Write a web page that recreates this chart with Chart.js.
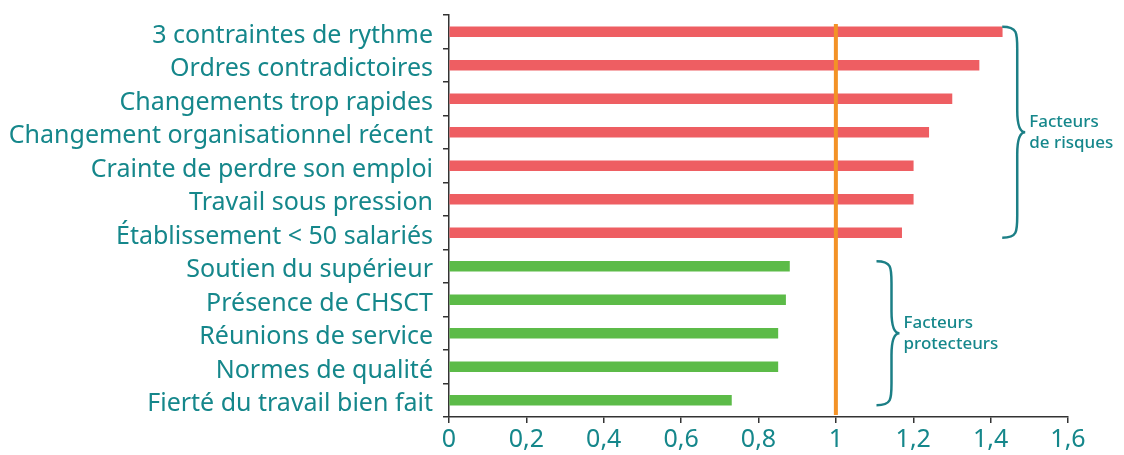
<!DOCTYPE html>
<html>
<head>
<meta charset="utf-8">
<script src="https://cdn.jsdelivr.net/npm/chart.js@4"></script>
<style>
  body { margin: 0; background: #fff; }
  #wrap { width: 1124px; height: 455px; }
</style>
</head>
<body>
<div id="wrap"><canvas id="factorsChart"></canvas></div>
<script>
const categories = [
    "3 contraintes de rythme",
    "Ordres contradictoires",
    "Changements trop rapides",
    "Changement organisationnel récent",
    "Crainte de perdre son emploi",
    "Travail sous pression",
    "Établissement < 50 salariés",
    "Soutien du supérieur",
    "Présence de CHSCT",
    "Réunions de service",
    "Normes de qualité",
    "Fierté du travail bien fait"
];
const values = [1.43, 1.37, 1.30, 1.24, 1.20, 1.20, 1.17, 0.88, 0.87, 0.85, 0.85, 0.73];
const groups = ["risque", "risque", "risque", "risque", "risque", "risque", "risque",
                "protecteur", "protecteur", "protecteur", "protecteur", "protecteur"];
const xTicks = [0, 0.2, 0.4, 0.6, 0.8, 1, 1.2, 1.4, 1.6];
const referenceValue = 1;
const groupNotes = [
    { group: "risque", lines: ["Facteurs", "de risques"] },
    { group: "protecteur", lines: ["Facteurs", "protecteurs"] }
];

const TEAL = '#15878b';
const groupColors = { risque: '#ee5e62', protecteur: '#5cbb48' };
const FONT = "'Noto Sans', sans-serif";
// position des accolades (en unités de l'axe x)
const braceAt = { risque: 1.43, protecteur: 1.105 };

// ligne de référence + accolades
const overlayPlugin = {
    id: 'overlay',
    afterDatasetsDraw(chart) {
        const { ctx, chartArea, scales } = chart;
        const x = scales.x, y = scales.y;

        let xr = x.getPixelForValue(referenceValue);
        ctx.save();
        ctx.strokeStyle = '#f39226';
        ctx.lineWidth = 4;
        ctx.beginPath();
        ctx.moveTo(xr, chartArea.top + 9);
        ctx.lineTo(xr, chartArea.bottom - 2);
        ctx.stroke();

        groupNotes.forEach(note => {
            let idx = groups.map((g, i) => g === note.group ? i : -1).filter(i => i >= 0);
            let first = idx[0], last = idx[idx.length - 1];
            let bx = x.getPixelForValue(braceAt[note.group]);
            let yTop = y.getPixelForValue(first) - 5;
            let yBot = y.getPixelForValue(last) + 5;
            drawBrace(ctx, bx, yTop, yBot);
            let ym = (yTop + yBot) / 2;
            ctx.fillStyle = TEAL;
            ctx.font = "500 17px " + FONT;
            ctx.textAlign = 'left';
            ctx.textBaseline = 'middle';
            ctx.fillText(note.lines[0], bx + 27, ym - 10);
            ctx.fillText(note.lines[1], bx + 27, ym + 11);
        });
        ctx.restore();
    }
};

function drawBrace(ctx, x, yTop, yBot) {
    let h = 15, w = 23, r = 22;
    let ym = (yTop + yBot) / 2;
    ctx.strokeStyle = '#1c7f86';
    ctx.lineWidth = 2.5;
    ctx.beginPath();
    ctx.moveTo(x, yTop);
    ctx.bezierCurveTo(x + h, yTop, x + h, yTop + 6, x + h, yTop + r);
    ctx.lineTo(x + h, ym - r);
    ctx.quadraticCurveTo(x + h, ym, x + w, ym);
    ctx.quadraticCurveTo(x + h, ym, x + h, ym + r);
    ctx.lineTo(x + h, yBot - r);
    ctx.bezierCurveTo(x + h, yBot - 6, x + h, yBot, x, yBot);
    ctx.stroke();
}

const ctx = document.getElementById('factorsChart').getContext('2d');
new Chart(ctx, {
    type: 'bar',
    data: {
        labels: categories,
        datasets: [{
            data: values,
            backgroundColor: groups.map(g => groupColors[g]),
            barThickness: 10
        }]
    },
    options: {
        indexAxis: 'y',
        responsive: true,
        maintainAspectRatio: false,
        animation: false,
        layout: { padding: { top: 15, right: 56, bottom: 0, left: 0 } },
        plugins: {
            legend: { display: false },
            tooltip: { enabled: false }
        },
        scales: {
            x: {
                min: 0,
                max: 1.6,
                afterBuildTicks: (scale) => { scale.ticks = xTicks.map(v => ({ value: v })); },
                afterFit: (scale) => { scale.height = 38; },
                ticks: {
                    color: TEAL,
                    font: { family: FONT, size: 25 },
                    padding: 2,
                    maxRotation: 0,
                    autoSkip: false,
                    callback: (value) => String(Math.round(value * 10) / 10).replace('.', ',')
                },
                grid: { drawOnChartArea: false, tickLength: 6, color: '#333', lineWidth: 1.5 },
                border: { color: '#333', width: 1.5 }
            },
            y: {
                afterFit: (scale) => {
                    scale.width = 449;
                    scale.paddingTop = 0;
                    scale.paddingBottom = 0;
                },
                ticks: {
                    color: TEAL,
                    font: { family: FONT, size: 25 },
                    padding: 10,
                    labelOffset: 4,
                    autoSkip: false
                },
                grid: { offset: true, drawOnChartArea: false, tickLength: 6, color: '#333', lineWidth: 1.5 },
                border: { color: '#333', width: 1.5 }
            }
        }
    },
    plugins: [overlayPlugin]
});
</script>
</body>
</html>
